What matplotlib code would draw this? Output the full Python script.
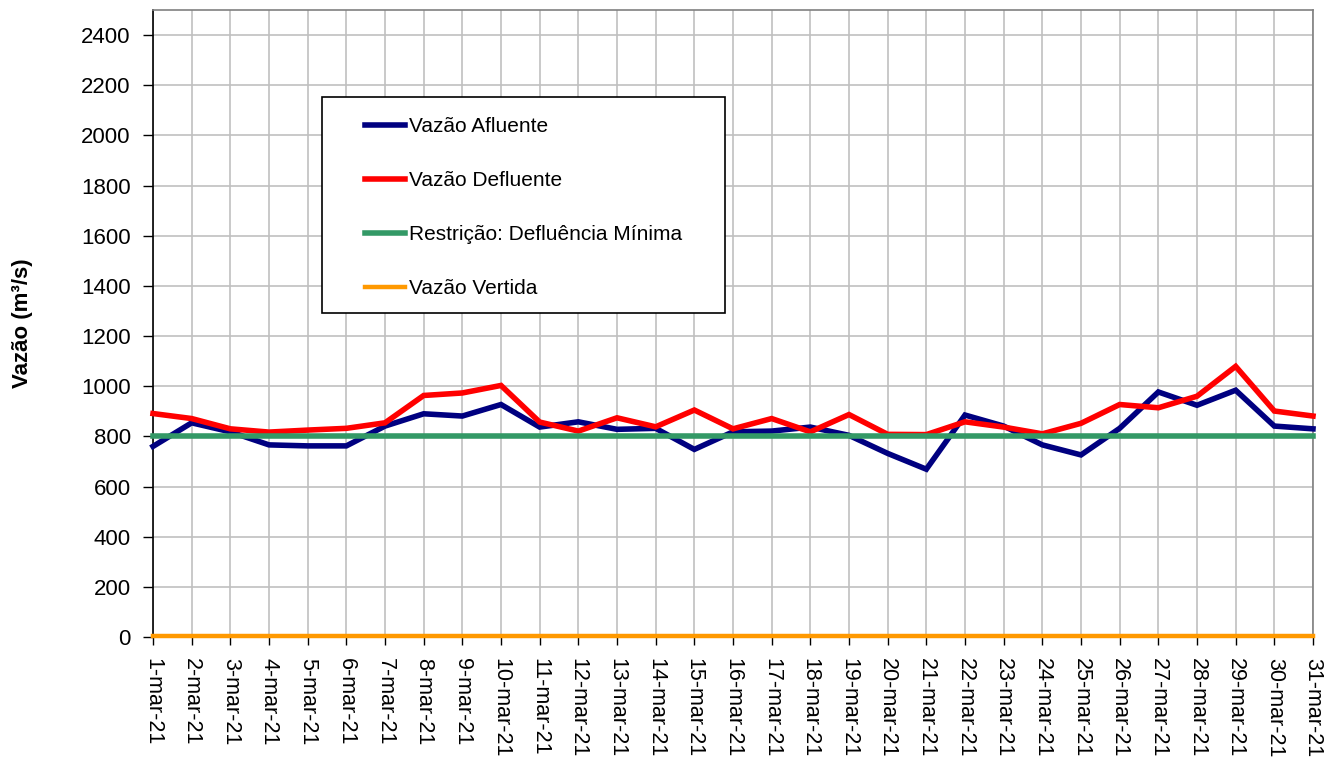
import numpy as np
import matplotlib
matplotlib.use("Agg")
import matplotlib.pyplot as plt
from matplotlib.patches import Rectangle

plt.rcParams["font.family"] = ["Liberation Sans", "DejaVu Sans"]

DAYS = list(range(1, 32))
DAY_LABELS = [f"{d}-mar-21" for d in DAYS]

AFLUENTE = [760, 854, 818, 766, 762, 762, 841, 890, 881, 927,
            837, 858, 828, 832, 748, 818, 821, 837, 804, 732,
            669, 885, 841, 766, 726, 832, 977, 924, 984, 841, 830]
DEFLUENTE = [891, 871, 830, 817, 825, 832, 854, 963, 973, 1003,
             857, 821, 874, 838, 905, 830, 871, 818, 887, 808,
             807, 858, 837, 810, 852, 927, 914, 960, 1079, 901, 881]
DEFL_MINIMA = [800] * 31
VERTIDA = [5] * 31

SERIES = [
    ("Vazão Afluente", AFLUENTE, "#000080", 4.0),
    ("Vazão Defluente", DEFLUENTE, "#ff0000", 4.0),
    ("Restrição: Defluência Mínima", DEFL_MINIMA, "#339966", 4.0),
    ("Vazão Vertida", VERTIDA, "#ff9900", 3.2),
]

TICK_FS = 16
LEG_FS = 15

fig = plt.figure(figsize=(13.41, 7.57), dpi=100)
ax = fig.add_axes([153 / 1341, 1 - 637 / 757, 1160 / 1341, 627 / 757])

for label, vals, color, lw in SERIES:
    ax.plot(DAYS, vals, color=color, linewidth=lw, label=label,
            solid_joinstyle="miter", zorder=3, clip_on=False)

ax.set_xlim(1, 31)
ax.set_ylim(0, 2500)
ax.set_yticks(range(0, 2401, 200))
ax.set_xticks(DAYS)
ax.set_xticklabels(DAY_LABELS, rotation=-90, ha="center", va="top")
ax.tick_params(axis="both", labelsize=TICK_FS, direction="out", color="black")
ax.tick_params(axis="x", labelsize=15.5)
ax.tick_params(axis="y", length=7, width=1, pad=9)
ax.tick_params(axis="x", length=6, width=1, pad=9)

ax.grid(True, color="#c0c0c0", linewidth=1.2, zorder=0)
ax.set_axisbelow(True)

for side in ("top", "right"):
    ax.spines[side].set_color("#808080")
    ax.spines[side].set_linewidth(1.2)
for side in ("left", "bottom"):
    ax.spines[side].set_color("black")
    ax.spines[side].set_linewidth(1.2)

ax.set_ylabel("Vazão (m³/s)", fontsize=16, fontweight="bold", labelpad=35)

# legend box drawn by hand so the padding matches
box = Rectangle((0.1457, 0.5167), 0.3474, 0.3445, transform=ax.transAxes,
                facecolor="white", edgecolor="black", linewidth=1.2, zorder=5)
ax.add_patch(box)
leg = ax.legend(loc="upper left", bbox_to_anchor=(0.1828, 0.8293),
                frameon=False, fontsize=LEG_FS, borderpad=0, borderaxespad=0,
                handlelength=1.92, handletextpad=0.2, labelspacing=1.68)
leg.set_zorder(6)

fig.savefig("out.png", dpi=100)
